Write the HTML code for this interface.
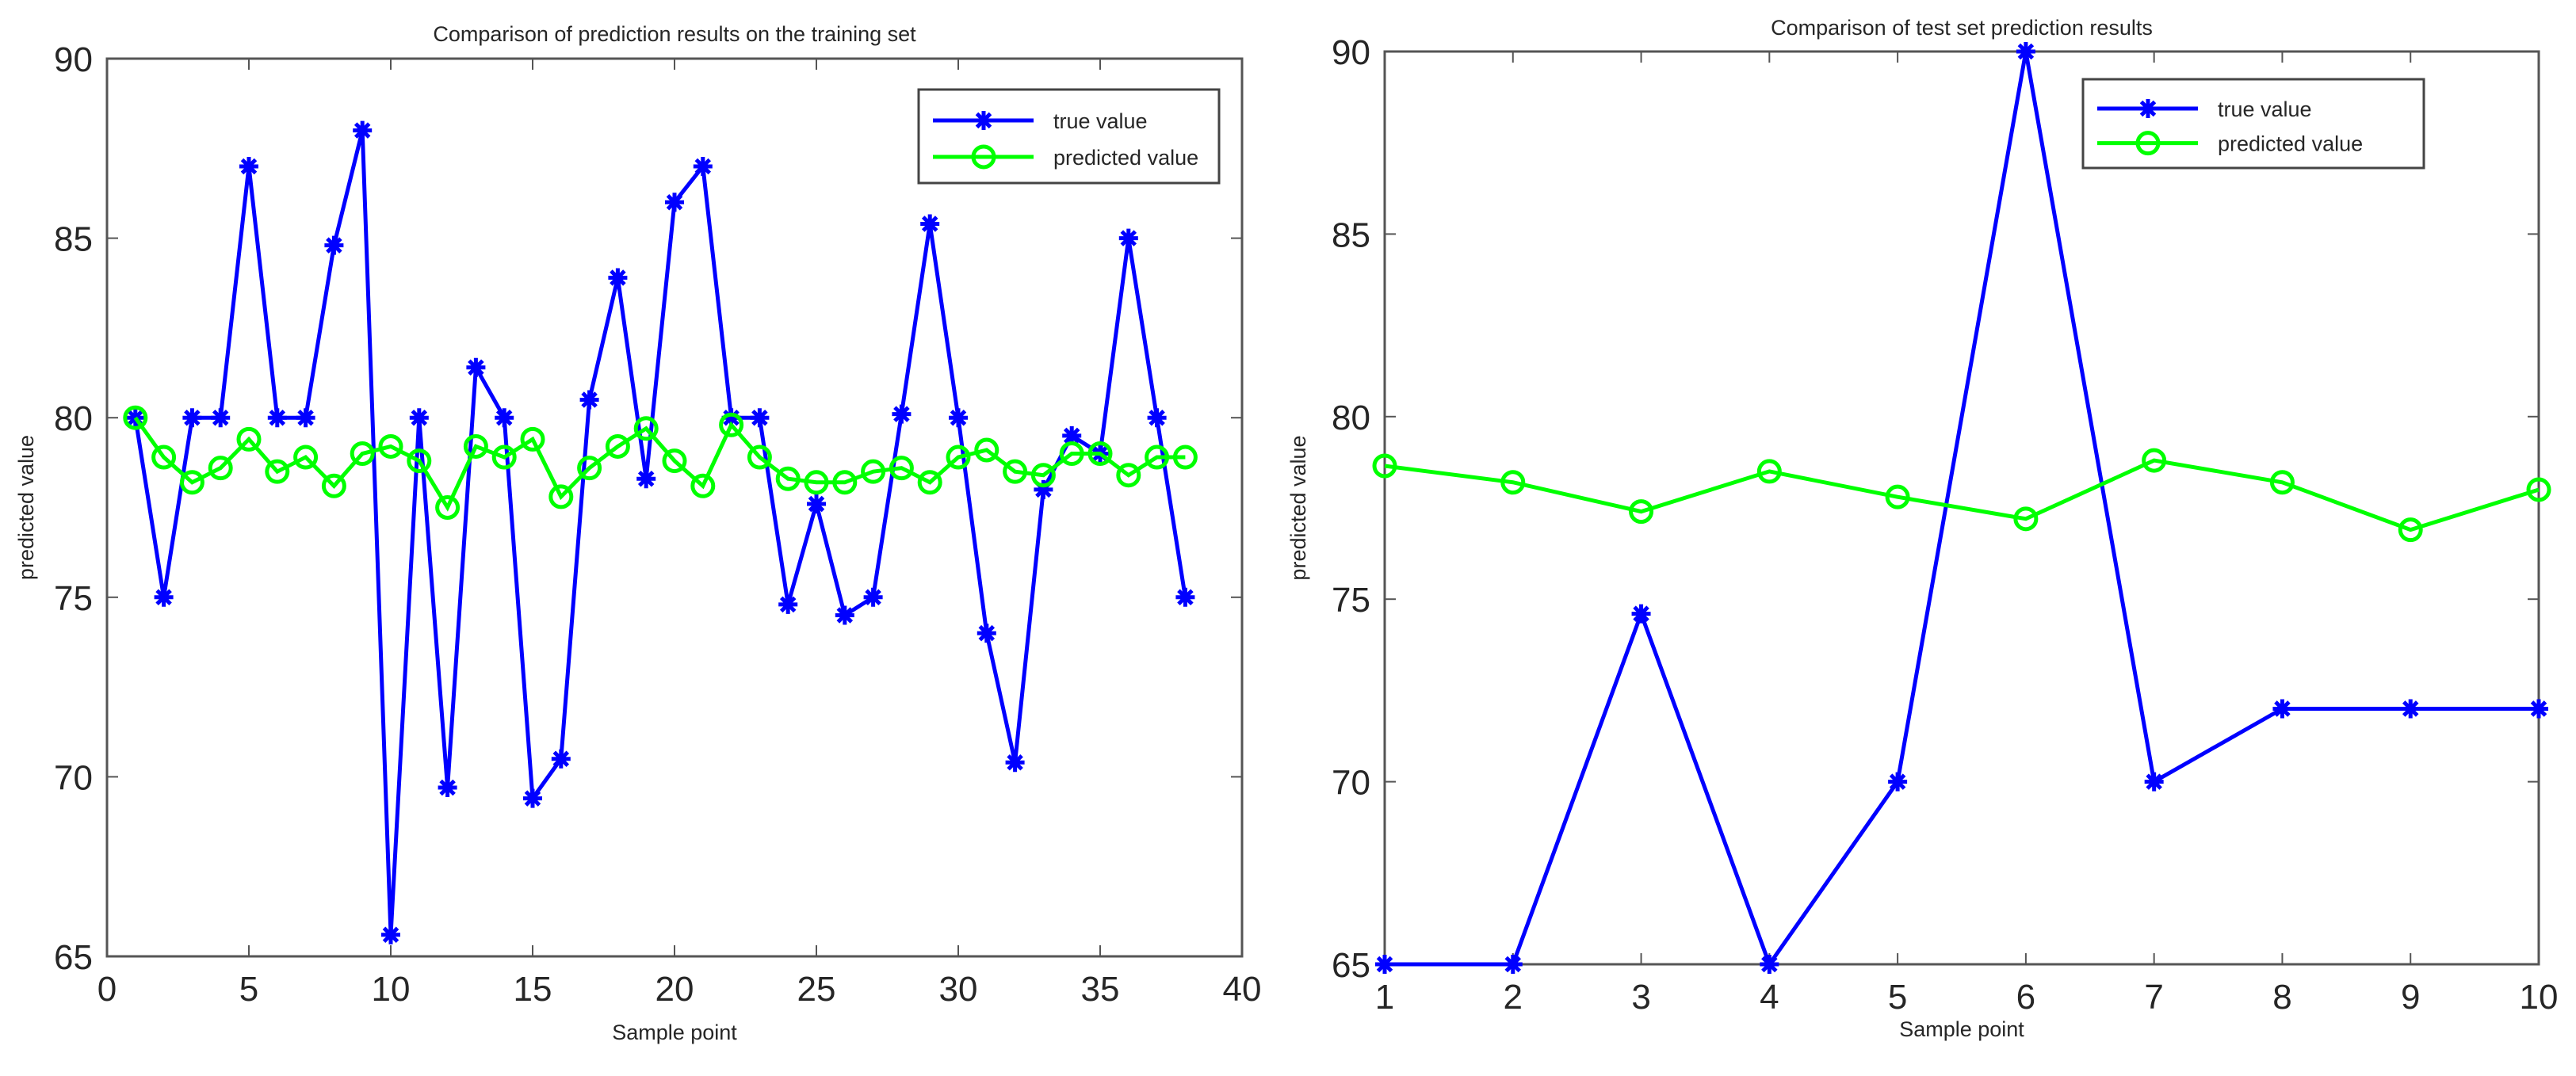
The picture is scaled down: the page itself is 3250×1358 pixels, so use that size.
<!DOCTYPE html>
<html><head><meta charset="utf-8"><style>
html,body{margin:0;padding:0;background:#fff;}
svg{display:block;}
text{font-family:"Liberation Sans",sans-serif;fill:#262626;}
</style></head><body>
<svg id="chart" width="3250" height="1358" viewBox="0 0 3250 1358" xmlns="http://www.w3.org/2000/svg"></svg>
<script>
const trainX = [1,2,3,4,5,6,7,8,9,10,11,12,13,14,15,16,17,18,19,20,21,22,23,24,25,26,27,28,29,30,31,32,33,34,35,36,37,38];
const trainTrue = [80,75,80,80,87,80,80,84.8,88,65.6,80,69.7,81.4,80,69.4,70.5,80.5,83.9,78.3,86,87,80,80,74.8,77.6,74.5,75,80.1,85.4,80,74,70.4,78,79.5,79,85,80,75];
const trainPred = [80,78.9,78.2,78.6,79.4,78.5,78.9,78.1,79,79.2,78.8,77.5,79.2,78.9,79.4,77.8,78.6,79.2,79.7,78.8,78.1,79.8,78.9,78.3,78.2,78.2,78.5,78.6,78.2,78.9,79.1,78.5,78.4,79,79,78.4,78.9,78.9];
const testX = [1,2,3,4,5,6,7,8,9,10];
const testTrue = [65,65,74.6,65,70,90,70,72,72,72];
const testPred = [78.65,78.2,77.4,78.5,77.8,77.2,78.8,78.2,76.9,78];
const leftXTicks = [0,5,10,15,20,25,30,35,40];
const rightXTicks = [1,2,3,4,5,6,7,8,9,10];
const yTicks = [65,70,75,80,85,90];

const NS = "http://www.w3.org/2000/svg";
const svg = document.getElementById('chart');
function mk(tag, attrs, parent, txt){
  const e = document.createElementNS(NS, tag);
  for (const k in attrs) e.setAttribute(k, attrs[k]);
  if (txt !== undefined) e.textContent = txt;
  (parent || svg).appendChild(e);
  return e;
}
function star(g, cx, cy, r){
  let d='';
  for (let a=0;a<4;a++){const t=a*Math.PI/4;d+=`M${cx-r*Math.cos(t)} ${cy-r*Math.sin(t)}L${cx+r*Math.cos(t)} ${cy+r*Math.sin(t)}`;}
  return mk('path',{d:d,stroke:'#0000ff','stroke-width':5,fill:'none'},g);
}
function panel(cfg){
  const g = mk('g',{});
  
  
  const {L,R,T,B,xmin,xmax} = cfg;
  const sx = v => L + (v-xmin)/(xmax-xmin)*(R-L);
  const sy = v => B - (v-65)/(90-65)*(B-T);
  const frame = mk('rect',{x:L,y:T,width:R-L,height:B-T,fill:'none',stroke:'#555','stroke-width':3},g);
  
  
  cfg.xticks.forEach(v=>{
    const x=sx(v);
    mk('line',{x1:x,x2:x,y1:B,y2:B-14,stroke:'#555','stroke-width':2},g);
    mk('line',{x1:x,x2:x,y1:T,y2:T+14,stroke:'#555','stroke-width':2},g);
    const t = mk('text',{x:x,y:B+56,'font-size':44,'text-anchor':'middle'},g,String(v));
    
    
  });
  yTicks.forEach(v=>{
    const y=sy(v);
    mk('line',{x1:L,x2:L+14,y1:y,y2:y,stroke:'#555','stroke-width':2},g);
    mk('line',{x1:R,x2:R-14,y1:y,y2:y,stroke:'#555','stroke-width':2},g);
    const t = mk('text',{x:L-18,y:y+16,'font-size':44,'text-anchor':'end'},g,String(v));
    
    
  });
  const title = mk('text',{x:(L+R)/2,y:cfg.titleY,'font-size':27,'text-anchor':'middle'},g,cfg.title);
  
  
  const xl = mk('text',{x:(L+R)/2,y:cfg.xlabY,'font-size':27,'text-anchor':'middle'},g,'Sample point');
  
  
  const yl = mk('text',{x:cfg.ylabX,y:(T+B)/2,'font-size':27,'text-anchor':'middle',transform:`rotate(-90 ${cfg.ylabX} ${(T+B)/2})`},g,'predicted value');
  
  
  // series
  const tp = cfg.xs.map((v,i)=>`${sx(v)},${sy(cfg.tv[i])}`).join(' ');
  const tl = mk('polyline',{points:tp,fill:'none',stroke:'#0000ff','stroke-width':5},g);
  
  
  cfg.xs.forEach((v,i)=>{
    const s = star(g,sx(v),sy(cfg.tv[i]),12);
    
    
  });
  const pp = cfg.xs.map((v,i)=>`${sx(v)},${sy(cfg.pv[i])}`).join(' ');
  const pl = mk('polyline',{points:pp,fill:'none',stroke:'#00ff00','stroke-width':5},g);
  
  
  cfg.xs.forEach((v,i)=>{
    const c = mk('circle',{cx:sx(v),cy:sy(cfg.pv[i]),r:13,fill:'none',stroke:'#00ff00','stroke-width':5},g);
    
    
  });
  // legend
  const lg = mk('g',{},g);
  
  
  const [lx,ly,lw,lh]=cfg.leg;
  mk('rect',{x:lx,y:ly,width:lw,height:lh,fill:'#fff',stroke:'#444','stroke-width':3},lg);
  const y1=ly+lh*0.33, y2=ly+lh*0.72;
  mk('line',{x1:lx+18,x2:lx+145,y1:y1,y2:y1,stroke:'#0000ff','stroke-width':5},lg);
  star(lg,lx+82,y1,12);
  const e1 = mk('text',{x:lx+170,y:y1+10,'font-size':27},lg,'true value');
  
  
  mk('line',{x1:lx+18,x2:lx+145,y1:y2,y2:y2,stroke:'#00ff00','stroke-width':5},lg);
  mk('circle',{cx:lx+82,cy:y2,r:13,fill:'none',stroke:'#00ff00','stroke-width':5},lg);
  const e2 = mk('text',{x:lx+170,y:y2+10,'font-size':27},lg,'predicted value');
  
  
}
panel({name:'training-set-chart',L:135,R:1567,T:74,B:1207,xmin:0,xmax:40,xticks:leftXTicks,
  title:'Comparison of prediction results on the training set',titleY:52,xlabY:1312,ylabX:42,
  xs:trainX,tv:trainTrue,pv:trainPred,leg:[1159,113,379,118]});
panel({name:'test-set-chart',L:1747,R:3203,T:65,B:1217,xmin:1,xmax:10,xticks:rightXTicks,
  title:'Comparison of test set prediction results',titleY:44,xlabY:1308,ylabX:1647,
  xs:testX,tv:testTrue,pv:testPred,leg:[2628,100,430,112]});
</script>
</body></html>
